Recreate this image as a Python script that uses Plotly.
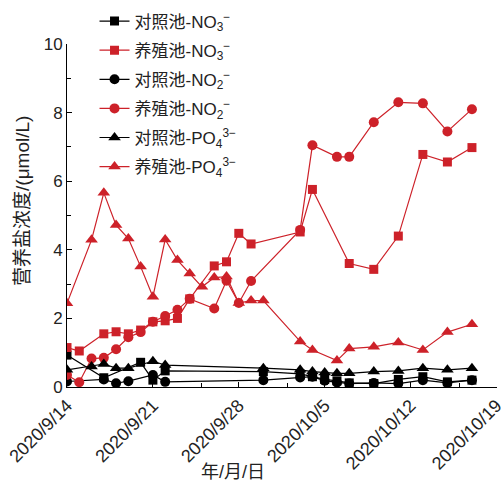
import plotly.graph_objects as go

# ---------------- data ----------------
red_no3_dates = ["2020-09-14","2020-09-15","2020-09-17","2020-09-18","2020-09-19","2020-09-20","2020-09-21",
                 "2020-09-22","2020-09-23","2020-09-24","2020-09-26","2020-09-27","2020-09-28","2020-09-29",
                 "2020-10-03","2020-10-04","2020-10-07","2020-10-09","2020-10-11","2020-10-13","2020-10-15","2020-10-17"]
red_no3_vals = [1.15,1.05,1.55,1.61,1.55,1.66,1.9,1.93,2.0,2.57,3.53,3.65,4.48,4.17,4.52,5.76,3.6,3.43,4.4,6.78,6.56,6.98]

red_no2_dates = ["2020-09-14","2020-09-15","2020-09-16","2020-09-17","2020-09-18","2020-09-19","2020-09-20",
                 "2020-09-21","2020-09-22","2020-09-23","2020-09-24","2020-09-26","2020-09-27","2020-09-28",
                 "2020-09-29","2020-10-03","2020-10-04","2020-10-06","2020-10-07","2020-10-09","2020-10-11",
                 "2020-10-13","2020-10-15","2020-10-17"]
red_no2_vals = [0.35,0.14,0.83,0.85,1.1,1.45,1.6,1.9,2.07,2.25,2.57,2.29,3.1,2.45,3.09,4.58,7.05,6.71,6.71,7.72,8.3,8.27,7.45,8.1]

red_po4_dates = ["2020-09-14","2020-09-16","2020-09-17","2020-09-18","2020-09-19","2020-09-20","2020-09-21",
                 "2020-09-22","2020-09-23","2020-09-24","2020-09-25","2020-09-26","2020-09-27","2020-09-28",
                 "2020-09-29","2020-09-30","2020-10-03","2020-10-04","2020-10-06","2020-10-07","2020-10-09",
                 "2020-10-11","2020-10-13","2020-10-15","2020-10-17"]
red_po4_vals = [2.44,4.29,5.66,4.72,4.33,3.51,2.63,4.3,3.7,3.31,2.92,3.19,3.22,2.45,2.52,2.52,1.33,1.08,0.77,1.12,1.17,1.3,1.08,1.6,1.83]

ctl_no3_dates = ["2020-09-14","2020-09-17","2020-09-20","2020-09-21","2020-09-22","2020-09-30","2020-10-03",
                 "2020-10-04","2020-10-05","2020-10-06","2020-10-07","2020-10-09","2020-10-11","2020-10-13",
                 "2020-10-15","2020-10-17"]
ctl_no3_vals = [0.93,0.27,0.72,0.2,0.47,0.45,0.38,0.3,0.22,0.18,0.12,0.1,0.22,0.3,0.15,0.2]

ctl_no2_dates = ["2020-09-14","2020-09-17","2020-09-18","2020-09-19","2020-09-21","2020-09-22","2020-09-30",
                 "2020-10-03","2020-10-04","2020-10-05","2020-10-06","2020-10-07","2020-10-09","2020-10-11",
                 "2020-10-13","2020-10-15","2020-10-17"]
ctl_no2_vals = [0.16,0.22,0.11,0.17,0.35,0.15,0.2,0.28,0.3,0.18,0.13,0.1,0.12,0.1,0.2,0.12,0.2]

ctl_po4_dates = ["2020-09-14","2020-09-16","2020-09-17","2020-09-18","2020-09-19","2020-09-21","2020-09-22",
                 "2020-09-30","2020-10-03","2020-10-04","2020-10-05","2020-10-06","2020-10-07","2020-10-09",
                 "2020-10-11","2020-10-13","2020-10-15","2020-10-17"]
ctl_po4_vals = [0.5,0.6,0.67,0.55,0.55,0.75,0.64,0.55,0.5,0.45,0.42,0.4,0.4,0.45,0.47,0.55,0.5,0.55]

x_tick_vals = ["2020-09-14","2020-09-21","2020-09-28","2020-10-05","2020-10-12","2020-10-19"]
x_tick_text = ["2020/9/14","2020/9/21","2020/9/28","2020/10/5","2020/10/12","2020/10/19"]

names = ["对照池-NO<sub>3</sub><sup>−</sup>", "养殖池-NO<sub>3</sub><sup>−</sup>",
         "对照池-NO<sub>2</sub><sup>−</sup>", "养殖池-NO<sub>2</sub><sup>−</sup>",
         "对照池-PO<sub>4</sub><sup>3−</sup>", "养殖池-PO<sub>4</sub><sup>3−</sup>"]

RED = "#CD2129"
BLK = "#000000"

fig = go.Figure()
series = [
    (ctl_no3_dates, ctl_no3_vals, BLK, "square", 9),
    (red_no3_dates, red_no3_vals, RED, "square", 9),
    (ctl_no2_dates, ctl_no2_vals, BLK, "circle", 10),
    (red_no2_dates, red_no2_vals, RED, "circle", 10),
    (ctl_po4_dates, ctl_po4_vals, BLK, "triangle-up", 11),
    (red_po4_dates, red_po4_vals, RED, "triangle-up", 11),
]
for i, ((xd, yd, col, sym, sz), nm) in enumerate(zip(series, names)):
    fig.add_trace(go.Scatter(x=xd, y=yd, mode="lines+markers", name=nm, legendgroup=f"g{i}",
                             line=dict(color=col, width=1.2),
                             marker=dict(symbol=sym, size=sz, color=col, line=dict(width=0))))

FONT = "Liberation Sans, Arial, Noto Sans CJK SC, sans-serif"

fig.update_layout(
    width=501, height=491,
    margin=dict(l=67, r=4, t=44, b=104, autoexpand=False),
    paper_bgcolor="white", plot_bgcolor="white",
    font=dict(family=FONT, size=17, color="#222"),
    showlegend=True,
    legend=dict(x=0.064, y=1.118, xanchor="left", yanchor="top", traceorder="grouped",
                bgcolor="rgba(0,0,0,0)", font=dict(size=17, family=FONT, color="#222"),
                tracegroupgap=4),
    xaxis=dict(type="date", range=["2020-09-14", "2020-10-19 01:00"],
               tickmode="array", tickvals=x_tick_vals, ticktext=x_tick_text,
               tickangle=-45, ticks="inside", ticklen=5, tickcolor="black",
               ticklabeloverflow="allow",
               showline=True, linecolor="black", linewidth=1, showgrid=False, zeroline=False,
               tickfont=dict(size=18),
               minor=dict(ticks="inside", ticklen=4, tick0="2020-09-18", dtick=7*86400000,
                          tickcolor="black", showgrid=False)),
    yaxis=dict(range=[0, 10], dtick=2, tick0=0, ticks="inside", ticklen=5, tickcolor="black",
               showline=True, linecolor="black", linewidth=1, showgrid=False, zeroline=False,
               tickfont=dict(size=17),
               minor=dict(ticks="inside", ticklen=4, dtick=1, tickcolor="black", showgrid=False)),
)

fig.add_annotation(text="年/月/日", xref="paper", yref="paper", x=0.386, y=-0.248,
                   showarrow=False, font=dict(size=18, family=FONT, color="#222"),
                   xanchor="center", yanchor="middle")
fig.add_annotation(text="营养盐浓度/(μmol/L)", xref="paper", yref="paper", x=-0.105, y=0.542,
                   showarrow=False, textangle=-90, font=dict(size=19, family=FONT, color="#222"),
                   xanchor="center", yanchor="middle")

fig.write_html("out.html", config={"displayModeBar": False},
               post_script="document.body.style.margin='0';document.body.style.overflow='hidden';")
